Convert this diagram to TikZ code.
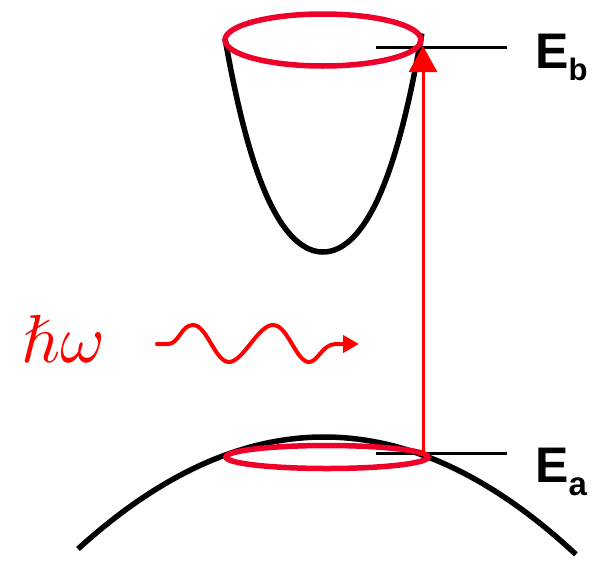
\documentclass[tikz,border=0pt]{standalone}
\usepackage{fontspec}
\usepackage{unicode-math}
\setmathfont{Latin Modern Math}
\newfontfamily\labfont{Liberation Sans}
\usetikzlibrary{arrows.meta}
\definecolor{ellred}{RGB}{238,0,42}
\definecolor{purered}{RGB}{255,0,0}
\tikzset{
  band/.style={draw=black, line width=5.5pt},
  orbit/.style={draw=ellred, line width=5.5pt},
  level/.style={draw=black, line width=3pt},
  excite/.style={draw=purered, line width=3pt, -{Triangle[length=26pt,width=28pt]}},
  photon/.style={draw=purered, line width=4pt, line cap=round, -{Triangle[length=16pt,width=17pt]}},
  elab/.style={anchor=base west, inner sep=0pt, font=\labfont\bfseries},
}
\begin{document}
\begin{tikzpicture}[x=1pt,y=-1pt]
\useasboundingbox (0,0) rectangle (604,560);
% valence band
\draw[band] plot[domain=-2.46:2.52, samples=120, smooth] ({324+100*\x},{437+18.5*\x*\x});
% conduction band
\draw[band] plot[domain=-0.98:0.99, samples=120, smooth] ({323+100*\x},{252-155*\x*\x-70.4*\x*\x*\x*\x});
% levels
\coordinate (EbL) at (376,47);
\coordinate (EbR) at (507,47);
\coordinate (EaL) at (376,453);
\coordinate (EaR) at (507,453);
\draw[level] (EbL) -- (EbR);
\draw[level] (EaL) -- (EaR);
% orbits
\draw[orbit] (323,40) ellipse [x radius=98, y radius=26];
\draw[orbit] (327,457) ellipse [x radius=101, y radius=11.5];
% excitation arrow
\coordinate (ea) at (423,453);
\coordinate (eb) at (423,46);
\draw[excite] (ea) -- (eb);
% labels
\node[elab] (Eb) at (535,68) {\fontsize{50}{50}\selectfont E\raisebox{-12pt}{\fontsize{31}{31}\selectfont b}};
\node[elab] (Ea) at (535,482) {\fontsize{50}{50}\selectfont E\raisebox{-13pt}{\fontsize{33}{33}\selectfont a}};
\node[anchor=base west, inner sep=0pt, text=purered, font=\fontsize{68}{68}\selectfont] (hw) at (21,362) {$\hbar\omega$};
% photon
\coordinate (ws) at (157,344);
\coordinate (we) at (359,344);
\draw[photon] (ws) -- (168,344) .. controls (179,344) and (181,325) .. (193,325)
  .. controls (207,325) and (215,362) .. (229,362)
  .. controls (243,362) and (258,325) .. (273,325)
  .. controls (288,325) and (296,362) .. (309,362)
  .. controls (318,362) and (322,344) .. (336,344) -- (we);
\end{tikzpicture}
\end{document}
